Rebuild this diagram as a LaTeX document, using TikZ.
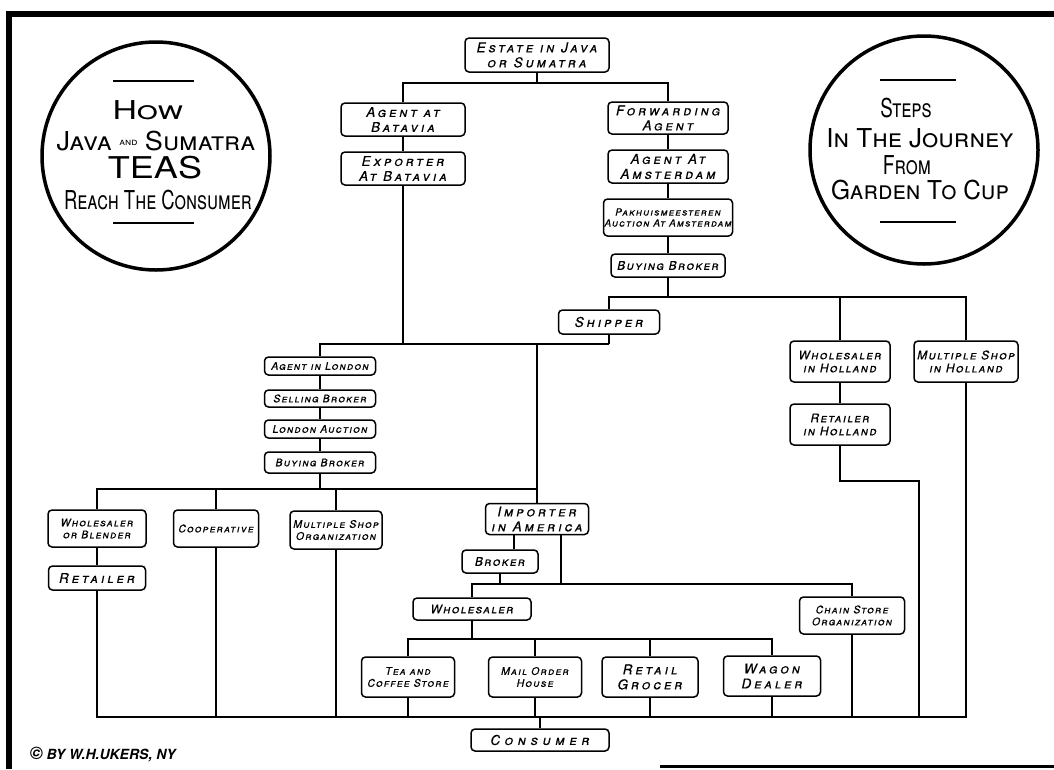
\documentclass[tikz,border=0pt]{standalone}
\usepackage{fontspec}
\setsansfont{TeX Gyre Heros}
\newfontfamily\boxfont{TeX Gyre Heros}[LetterSpace=12, FakeBold=0.5]
\newfontfamily\titlefont{TeX Gyre Heros}
\usetikzlibrary{positioning}
\begin{document}
\begin{tikzpicture}[x=1pt, y=-1pt,
    link/.style={line width=1.3pt},
    box/.style 2 args={draw, rounded corners=4pt, line width=1.5pt, align=center,
        inner sep=1pt, minimum width=#1pt, minimum height=#2pt,
        font=\boxfont\itshape\scshape\fontsize{12}{13}\selectfont},
    bigtext/.style={font=\boxfont\addfontfeatures{LetterSpace=22}\itshape\scshape\fontsize{13.5}{15}\selectfont},
    widetext/.style={font=\boxfont\addfontfeatures{LetterSpace=35}\itshape\scshape\fontsize{13.5}{15}\selectfont},
    smalltext/.style={font=\boxfont\itshape\scshape\fontsize{10.5}{12}\selectfont},
    tinytext/.style={font=\boxfont\itshape\scshape\fontsize{10}{11}\selectfont},
    disc/.style={draw, circle, line width=3.5pt, minimum size=228pt},
    headline/.style={inner sep=0pt, font=\titlefont\addfontfeatures{FakeStretch=#1}\scshape\fontsize{26}{26}\selectfont},
    rule/.style={line width=1.5pt}]
    \useasboundingbox (0,0) rectangle (1054,769);
    \draw[line width=6pt] (9,769) -- (9,14) -- (1054,14);
    \draw[line width=3pt] (660,766.5) -- (1054,766.5);

    \node[disc] (leftdisc) at (156,156) {};
    \draw[rule] (113,81) -- (194,81);
    \draw[rule] (113,223) -- (194,223);
    \node[headline=1.3] (how) at (148,110) {How};
    \node[headline=1.04] (java) at (156,141) {Java \raisebox{5pt}{\fontsize{10}{10}\selectfont and} Sumatra};
    \node[inner sep=0pt, font=\titlefont\addfontfeatures{FakeStretch=1.2}\fontsize{30}{30}\selectfont] (teas) at (155,168) {TEAS};
    \node[headline=0.71] (reach) at (158,200) {Reach The Consumer};

    \node[disc] (rightdisc) at (924,150) {};
    \draw[rule] (880,80) -- (956,80);
    \draw[rule] (880,222) -- (956,222);
    \node[headline=0.72] (steps) at (906,108) {Steps};
    \node[headline=1.0] (journey) at (920,138) {In The Journey};
    \node[headline=0.74] (from) at (907,165) {From};
    \node[headline=0.94] (garden) at (920,190) {Garden To Cup};

    \node[box={144}{34}, bigtext] (estate) at (537,55) {Estate in Java\\or Sumatra};
    \node[box={124}{33}, bigtext] (agentbat) at (403,119.5) {Agent at\\Batavia};
    \node[box={124}{33}, bigtext] (exporter) at (403,168.5) {Exporter\\At Batavia};
    \node[box={120}{32}, bigtext] (forwarding) at (668,118) {Forwarding\\Agent};
    \node[box={120}{33}, bigtext] (agentams) at (668,166.5) {Agent At\\Amsterdam};
    \node[box={122}{37}, tinytext] (pakhuis) at (668,217.5) {Pakhuismeesteren\\Auction At Amsterdam};
    \node[box={114}{23}] (buyhol) at (668,265.5) {Buying Broker};
    \node[box={101}{24}, bigtext] (shipper) at (609,322) {Shipper};
    \node[box={100}{41}] (wholhol) at (840,361.5) {Wholesaler\\in Holland};
    \node[box={104}{41}] (multhol) at (966,361.5) {Multiple Shop\\in Holland};
    \node[box={100}{41}] (rethol) at (840,424.5) {Retailer\\in Holland};
    \node[box={111}{18}, smalltext] (agentlon) at (320,366) {Agent in London};
    \node[box={111}{17}, smalltext] (selling) at (320,398.5) {Selling Broker};
    \node[box={111}{18}, smalltext] (auction) at (320,429) {London Auction};
    \node[box={111}{21}, smalltext] (buylon) at (320,462.5) {Buying Broker};
    \node[box={98}{37}, smalltext] (wholblend) at (97,528.5) {Wholesaler\\or Blender};
    \node[box={85}{37}, smalltext] (coop) at (216,528.5) {Cooperative};
    \node[box={92}{38}, smalltext] (multorg) at (336,530) {Multiple Shop\\Organization};
    \node[box={97}{24}, bigtext] (retailer) at (97,578) {Retailer};
    \node[box={103}{31}, bigtext] (importer) at (537,519) {Importer\\in America};
    \node[box={76}{23}] (broker) at (500,561.5) {Broker};
    \node[box={118}{22}] (wholesaler) at (472,609) {Wholesaler};
    \node[box={93}{40}, smalltext] (teacoffee) at (408,677) {Tea and\\Coffee Store};
    \node[box={93}{40}, smalltext] (mailorder) at (535,677) {Mail Order\\House};
    \node[box={96}{40}, bigtext] (grocer) at (650,677) {Retail\\Grocer};
    \node[box={97}{40}, bigtext] (wagon) at (772,676) {Wagon\\Dealer};
    \node[box={105}{37}, smalltext] (chain) at (852,615.5) {Chain Store\\Organization};
    \node[box={138}{22}, widetext] (consumer) at (540,740) {Consumer};
    \node[anchor=west, font=\sffamily\bfseries\itshape\fontsize{14}{16}\selectfont] (credit) at (26,755)
        {{\fontsize{18}{18}\selectfont\textcopyright}\ BY W.H.UKERS, NY};

    \coordinate (topbus) at (537,83);
    \coordinate (holbus) at (668,297);
    \coordinate (lonbus) at (609,344);
    \coordinate (leftbus) at (320,489);
    \coordinate (ambus) at (561,584);
    \coordinate (retbus) at (472,639);
    \coordinate (botbus) at (540,717);
    \coordinate (holdrop) at (919,481);

    \draw[link] (estate) -- (topbus);
    \draw[link] (agentbat.north) |- (topbus) -| (forwarding.north);
    \draw[link] (agentbat) -- (exporter);
    \draw[link] (forwarding) -- (agentams);
    \draw[link] (agentams) -- (pakhuis);
    \draw[link] (pakhuis) -- (buyhol);
    \draw[link] (buyhol) -- (holbus);
    \draw[link] (shipper.north) |- (holbus) -| (multhol.north);
    \draw[link] (wholhol.north) -- (wholhol.north |- holbus);
    \draw[link] (wholhol) -- (rethol);
    \draw[link] (rethol.south) |- (holdrop) -- (holdrop |- botbus);
    \draw[link] (shipper) -- (lonbus);
    \draw[link] (exporter.south) -- (exporter.south |- lonbus);
    \draw[link] (agentlon.north) |- (lonbus);
    \draw[link] (importer.north) -- (importer.north |- lonbus);
    \draw[link] (agentlon) -- (selling);
    \draw[link] (selling) -- (auction);
    \draw[link] (auction) -- (buylon);
    \draw[link] (buylon) -- (leftbus);
    \draw[link] (wholblend.north) |- (importer.north |- leftbus);
    \draw[link] (coop.north) -- (coop.north |- leftbus);
    \draw[link] (multorg.north) -- (multorg.north |- leftbus);
    \draw[link] (wholblend) -- (retailer);
    \draw[link] ([xshift=-23pt]importer.south) -- ([xshift=-23pt]importer.south |- broker.north);
    \draw[link] ([xshift=24pt]importer.south) -- (ambus);
    \draw[link] (broker.south) -- (broker.south |- ambus);
    \draw[link] (wholesaler.north) |- (ambus) -| (chain.north);
    \draw[link] (wholesaler) -- (retbus);
    \draw[link] (teacoffee.north) |- (retbus) -| (wagon.north);
    \draw[link] (mailorder.north) -- (mailorder.north |- retbus);
    \draw[link] (grocer.north) -- (grocer.north |- retbus);
    \draw[link] (retailer.south) |- (multhol.south |- botbus) -- (multhol.south);
    \foreach \n in {coop,multorg,teacoffee,mailorder,grocer,wagon,chain}
        \draw[link] (\n.south) -- (\n.south |- botbus);
    \draw[link] (botbus) -- (consumer);
\end{tikzpicture}
\end{document}
